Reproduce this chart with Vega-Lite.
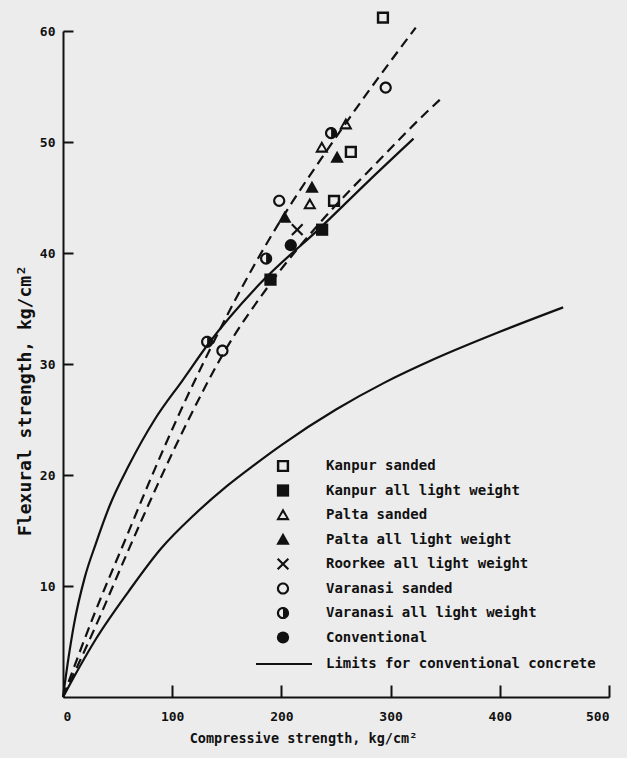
{
  "$schema": "https://vega.github.io/schema/vega-lite/v6.json",
  "width": 546,
  "height": 666,
  "autosize": "none",
  "padding": {"left": 63, "top": 31, "right": 18, "bottom": 61},
  "background": "#ececec",
  "config": {"view": {"stroke": null}, "font": "DejaVu Sans Mono"},
  "resolve": {"axis": {"x": "independent", "y": "independent"}},
  "datasets": {
    "points": [
      {"series": "Kanpur sanded", "x": 293, "y": 61.2},
      {"series": "Kanpur sanded", "x": 263.6, "y": 49.1},
      {"series": "Kanpur sanded", "x": 248.2, "y": 44.7},
      {"series": "Kanpur all light weight", "x": 237.3, "y": 42.1},
      {"series": "Kanpur all light weight", "x": 190, "y": 37.6},
      {"series": "Palta sanded", "x": 259, "y": 51.6},
      {"series": "Palta sanded", "x": 237, "y": 49.5},
      {"series": "Palta sanded", "x": 226, "y": 44.4},
      {"series": "Palta all light weight", "x": 251, "y": 48.6},
      {"series": "Palta all light weight", "x": 228, "y": 45.9},
      {"series": "Palta all light weight", "x": 203, "y": 43.2},
      {"series": "Roorkee all light weight", "x": 214.5, "y": 42.1},
      {"series": "Varanasi sanded", "x": 295.5, "y": 54.9},
      {"series": "Varanasi sanded", "x": 198, "y": 44.7},
      {"series": "Varanasi sanded", "x": 146, "y": 31.2},
      {"series": "Varanasi all light weight", "x": 245.5, "y": 50.8},
      {"series": "Varanasi all light weight", "x": 186, "y": 39.5},
      {"series": "Varanasi all light weight", "x": 132, "y": 32.0},
      {"series": "Conventional", "x": 208.6, "y": 40.7}
    ],
    "limits": [
      {"curve": "upper", "kind": "Limits for conventional concrete", "x": 0, "y": 0},
      {"curve": "upper", "kind": "Limits for conventional concrete", "x": 5, "y": 3.5},
      {"curve": "upper", "kind": "Limits for conventional concrete", "x": 10, "y": 6.5},
      {"curve": "upper", "kind": "Limits for conventional concrete", "x": 20, "y": 10.8},
      {"curve": "upper", "kind": "Limits for conventional concrete", "x": 30, "y": 13.8},
      {"curve": "upper", "kind": "Limits for conventional concrete", "x": 43, "y": 17.3},
      {"curve": "upper", "kind": "Limits for conventional concrete", "x": 60, "y": 20.8},
      {"curve": "upper", "kind": "Limits for conventional concrete", "x": 84, "y": 25.0},
      {"curve": "upper", "kind": "Limits for conventional concrete", "x": 110, "y": 28.6},
      {"curve": "upper", "kind": "Limits for conventional concrete", "x": 133, "y": 31.8},
      {"curve": "upper", "kind": "Limits for conventional concrete", "x": 180, "y": 37.2},
      {"curve": "upper", "kind": "Limits for conventional concrete", "x": 237, "y": 42.4},
      {"curve": "upper", "kind": "Limits for conventional concrete", "x": 280, "y": 46.5},
      {"curve": "upper", "kind": "Limits for conventional concrete", "x": 321, "y": 50.3},
      {"curve": "lower", "kind": "Limits for conventional concrete", "x": 0, "y": 0},
      {"curve": "lower", "kind": "Limits for conventional concrete", "x": 10, "y": 1.8},
      {"curve": "lower", "kind": "Limits for conventional concrete", "x": 30, "y": 5.2},
      {"curve": "lower", "kind": "Limits for conventional concrete", "x": 60, "y": 9.5},
      {"curve": "lower", "kind": "Limits for conventional concrete", "x": 90, "y": 13.4},
      {"curve": "lower", "kind": "Limits for conventional concrete", "x": 120, "y": 16.4},
      {"curve": "lower", "kind": "Limits for conventional concrete", "x": 150, "y": 19.0},
      {"curve": "lower", "kind": "Limits for conventional concrete", "x": 175, "y": 20.9},
      {"curve": "lower", "kind": "Limits for conventional concrete", "x": 200, "y": 22.7},
      {"curve": "lower", "kind": "Limits for conventional concrete", "x": 250, "y": 25.9},
      {"curve": "lower", "kind": "Limits for conventional concrete", "x": 294, "y": 28.3},
      {"curve": "lower", "kind": "Limits for conventional concrete", "x": 339, "y": 30.4},
      {"curve": "lower", "kind": "Limits for conventional concrete", "x": 400, "y": 32.9},
      {"curve": "lower", "kind": "Limits for conventional concrete", "x": 458, "y": 35.1}
    ],
    "dashed": [
      {"curve": "d1", "x": 0, "y": 0},
      {"curve": "d1", "x": 30, "y": 7.8},
      {"curve": "d1", "x": 58, "y": 14.4},
      {"curve": "d1", "x": 80, "y": 19.6},
      {"curve": "d1", "x": 105, "y": 25.2},
      {"curve": "d1", "x": 134, "y": 31.2},
      {"curve": "d1", "x": 160, "y": 36.2},
      {"curve": "d1", "x": 185, "y": 40.6},
      {"curve": "d1", "x": 210, "y": 44.6},
      {"curve": "d1", "x": 240, "y": 49.0},
      {"curve": "d1", "x": 280, "y": 54.6},
      {"curve": "d1", "x": 323, "y": 60.3},
      {"curve": "d2", "x": 0, "y": 0},
      {"curve": "d2", "x": 30, "y": 6.4},
      {"curve": "d2", "x": 58, "y": 12.8},
      {"curve": "d2", "x": 86, "y": 19.0},
      {"curve": "d2", "x": 115, "y": 25.0},
      {"curve": "d2", "x": 146, "y": 30.8},
      {"curve": "d2", "x": 191, "y": 37.4},
      {"curve": "d2", "x": 236, "y": 42.8},
      {"curve": "d2", "x": 288, "y": 48.2},
      {"curve": "d2", "x": 331, "y": 52.5},
      {"curve": "d2", "x": 345, "y": 53.8}
    ]
  },
  "layer": [
    {
      "data": {"name": "limits"},
      "mark": {"type": "line", "strokeWidth": 2.2, "interpolate": "monotone"},
      "encoding": {
        "x": {
          "field": "x", "type": "quantitative",
          "scale": {"domain": [0, 500], "nice": false},
          "axis": {
            "orient": "bottom",
            "values": [0, 100, 200, 300, 400, 500],
            "grid": false, "ticks": false,
            "domainColor": "#111", "domainWidth": 2,
            "labelFont": "DejaVu Sans Mono", "labelFontWeight": "bold", "labelFontSize": 13, "labelColor": "#111",
            "labelPadding": 13,
            "title": "Compressive strength, kg/cm²",
            "titleFont": "DejaVu Sans Mono", "titleFontWeight": "bold", "titleFontSize": 13.5, "titleColor": "#111",
            "titleX": 240, "titleY": 45, "titleBaseline": "alphabetic", "titleAnchor": "middle"
          }
        },
        "y": {
          "field": "y", "type": "quantitative",
          "scale": {"domain": [0, 60], "nice": false},
          "axis": {
            "orient": "left",
            "values": [10, 20, 30, 40, 50, 60],
            "grid": false, "ticks": false,
            "domainColor": "#111", "domainWidth": 2,
            "labelFont": "DejaVu Sans Mono", "labelFontWeight": "bold", "labelFontSize": 13, "labelColor": "#111",
            "labelPadding": 8,
            "title": "Flexural strength, kg/cm²",
            "titleFont": "DejaVu Sans Mono", "titleFontWeight": "bold", "titleFontSize": 18, "titleColor": "#111",
            "titleX": -38, "titleY": 369, "titleBaseline": "middle", "titleAngle": -90
          }
        },
        "detail": {"field": "curve"},
        "color": {
          "field": "kind", "type": "nominal",
          "scale": {"domain": ["Limits for conventional concrete"], "range": ["#111111"]},
          "legend": {
            "title": null, "orient": "none", "legendX": 192, "legendY": 604,
            "symbolType": "stroke", "symbolSize": 3136, "symbolStrokeWidth": 2,
            "labelFont": "DejaVu Sans Mono", "labelFontWeight": "bold", "labelFontSize": 14, "labelColor": "#111",
            "labelOffset": 13, "labelLimit": 0, "padding": 0
          }
        }
      }
    },
    {
      "data": {"name": "dashed"},
      "mark": {"type": "line", "strokeWidth": 2.2, "strokeDash": [10, 6], "color": "#111", "interpolate": "monotone"},
      "encoding": {
        "x": {"field": "x", "type": "quantitative", "scale": {"domain": [0, 500], "nice": false}, "axis": null},
        "y": {"field": "y", "type": "quantitative", "scale": {"domain": [0, 60], "nice": false}, "axis": null},
        "detail": {"field": "curve"}
      }
    },
    {
      "data": {"name": "points"},
      "mark": {"type": "point", "filled": true, "color": "#111", "opacity": 1, "strokeWidth": 0, "size": 150},
      "encoding": {
        "x": {
          "field": "x", "type": "quantitative",
          "scale": {"domain": [0, 500], "nice": false},
          "axis": {
            "orient": "top", "offset": -666,
            "values": [100, 200, 300, 400, 500],
            "grid": false, "domain": false, "labels": false, "title": null,
            "ticks": true, "tickSize": 12, "tickWidth": 2, "tickColor": "#111"
          }
        },
        "y": {
          "field": "y", "type": "quantitative",
          "scale": {"domain": [0, 60], "nice": false},
          "axis": {
            "orient": "right", "offset": -546,
            "values": [10, 20, 30, 40, 50, 60],
            "grid": false, "domain": false, "labels": false, "title": null,
            "ticks": true, "tickSize": 10, "tickWidth": 2, "tickColor": "#111"
          }
        },
        "shape": {
          "field": "series", "type": "nominal",
          "scale": {
            "domain": ["Kanpur sanded", "Kanpur all light weight", "Palta sanded", "Palta all light weight", "Roorkee all light weight", "Varanasi sanded", "Varanasi all light weight", "Conventional"],
            "range": [
              "M-1,-1L1,-1L1,1L-1,1Z M-0.6,-0.6L-0.6,0.6L0.6,0.6L0.6,-0.6Z",
              "square",
              "M0,-1.1L1.1,0.85L-1.1,0.85Z M0,-0.4L-0.55,0.5L0.55,0.5Z",
              "M0,-1.1L1.1,0.85L-1.1,0.85Z",
              "M-1,-0.75L-0.75,-1L0,-0.25L0.75,-1L1,-0.75L0.25,0L1,0.75L0.75,1L0,0.25L-0.75,1L-1,0.75L-0.25,0Z",
              "M-1,0A1,1,0,1,1,1,0A1,1,0,1,1,-1,0Z M-0.65,0A0.65,0.65,0,1,0,0.65,0A0.65,0.65,0,1,0,-0.65,0Z",
              "M-1,0A1,1,0,1,1,1,0A1,1,0,1,1,-1,0Z M-0.65,0A0.65,0.65,0,1,0,0.65,0A0.65,0.65,0,1,0,-0.65,0Z M0,-1A1,1,0,0,1,0,1Z",
              "circle"
            ]
          },
          "legend": {
            "title": null, "orient": "none", "legendX": 213, "legendY": 428,
            "symbolFillColor": "#111", "symbolStrokeWidth": 0, "symbolSize": 150,
            "labelFont": "DejaVu Sans Mono", "labelFontWeight": "bold", "labelFontSize": 14, "labelColor": "#111",
            "labelOffset": 36, "labelLimit": 0, "rowPadding": 10.5, "padding": 0
          }
        }
      }
    }
  ]
}
